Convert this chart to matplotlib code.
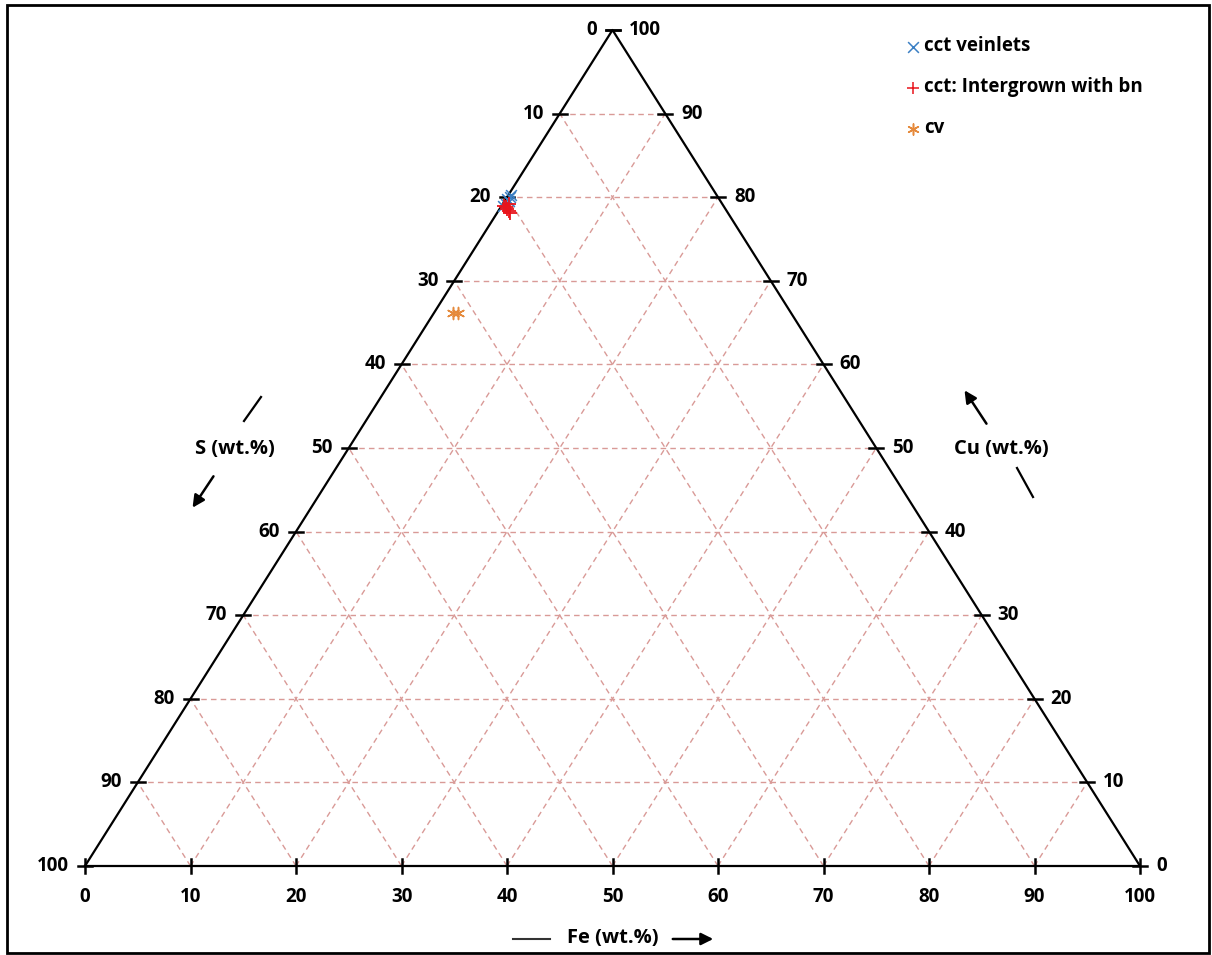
import matplotlib
matplotlib.use("Agg")
import matplotlib.pyplot as plt
from matplotlib.patches import Rectangle
import numpy as np

plt.rcParams['font.family'] = ['Open Sans', 'DejaVu Sans']

# Compositions (wt.%)
cct_veinlets_cu = [79.8, 80.0, 79.5, 79.2, 80.3, 79.0]
cct_veinlets_fe = [0.1, 0.3, 0.4, 0.3, 0.2, 0.1]
cct_veinlets_s = [100 - c - f for c, f in zip(cct_veinlets_cu, cct_veinlets_fe)]

cct_bn_cu = [79.0, 78.8, 78.4, 78.1, 79.2, 78.6]
cct_bn_fe = [0.2, 0.5, 1.0, 1.2, 0.6, 0.7]
cct_bn_s = [100 - c - f for c, f in zip(cct_bn_cu, cct_bn_fe)]

cv_cu = [66.1, 66.2]
cv_fe = [1.8, 2.3]
cv_s = [100 - c - f for c, f in zip(cv_cu, cv_fe)]

tick_values = [0, 10, 20, 30, 40, 50, 60, 70, 80, 90, 100]
legend_labels = ["cct veinlets", "cct: Intergrown with bn", "cv"]

LBL = 13.5
TTL = 14.5


def to_xy(fe, cu):
    fe = np.asarray(fe, dtype=float)
    cu = np.asarray(cu, dtype=float)
    return fe + cu / 2.0, cu


W, H = 1212, 955
fig = plt.figure(figsize=(W / 100, H / 100), dpi=100)
ax = fig.add_axes([0, 0, 1, 1])
# Triangle base spans x 85..1140 px, apex at y 30 px, base at y 866 px
sx = (1140 - 85) / 100.0
sy = (866 - 30) / 100.0
ax.set_xlim(-85 / sx, (W - 85) / sx)
ax.set_ylim((866 - H) / sy, 866 / sy)
ax.axis('off')

grid_color = '#d99a97'
# Grid: constant Cu (horizontal), constant Fe, constant S
for v in tick_values[1:-1]:
    x0, y0 = to_xy(0, v)
    x1, y1 = to_xy(100 - v, v)
    ax.plot([x0, x1], [y0, y1], color=grid_color, ls=(0, (4, 3)), lw=1.0, zorder=1)
    x0, y0 = to_xy(v, 0)
    x1, y1 = to_xy(v, 100 - v)
    ax.plot([x0, x1], [y0, y1], color=grid_color, ls=(0, (4, 3)), lw=1.0, zorder=1)
    x0, y0 = to_xy(100 - v, 0)
    x1, y1 = to_xy(0, 100 - v)
    ax.plot([x0, x1], [y0, y1], color=grid_color, ls=(0, (4, 3)), lw=1.0, zorder=1)

# Triangle outline
tx, ty = to_xy([0, 100, 0, 0], [0, 0, 100, 0])
ax.plot(tx, ty, color='black', lw=1.6, zorder=2)

# Tick marks (in pixel units converted to data units)
hx = 7 / sx
hy = 7 / sy
for v in tick_values:
    # bottom axis (Fe)
    bx, by = to_xy(v, 0)
    ax.plot([bx, bx], [by - hy, by + hy], color='black', lw=1.8, zorder=3)
    ax.text(bx, by - 31 / sy, str(v), ha='center', va='center',
            fontsize=LBL, fontweight='bold')
    # left axis (S): Fe = 0, Cu = 100 - S
    lx, ly = to_xy(0, 100 - v)
    ax.plot([lx - hx, lx + hx], [ly, ly], color='black', lw=1.8, zorder=3)
    ax.text(lx - 16 / sx, ly, str(v), ha='right', va='center',
            fontsize=LBL, fontweight='bold')
    # right axis (Cu): Fe = 100 - Cu
    rx, ry = to_xy(100 - v, v)
    ax.plot([rx - hx, rx + hx], [ry, ry], color='black', lw=1.8, zorder=3)
    ax.text(rx + 16 / sx, ry, str(v), ha='left', va='center',
            fontsize=LBL, fontweight='bold')

# Data
x, y = to_xy(cct_veinlets_fe, cct_veinlets_cu)
ax.scatter(x, y, marker='x', s=60, color='#3a7fc4', linewidths=1.1, zorder=5)
x, y = to_xy(cct_bn_fe, cct_bn_cu)
ax.scatter(x, y, marker='+', s=90, color='#e8141b', linewidths=1.3, zorder=6)
x, y = to_xy(cv_fe, cv_cu)
ax.scatter(x, y, marker=(6, 2, 0), s=75, color='#e58a3c', linewidths=1.1, zorder=5)


def px(xp, yp):
    return (xp - 85) / sx, (866 - yp) / sy


# Legend
leg_markers = ['x', '+', (6, 2, 0)]
leg_colors = ['#3a7fc4', '#e8141b', '#e58a3c']
leg_sizes = [60, 80, 65]
for i, (lab, mk, col, sz) in enumerate(zip(legend_labels, leg_markers, leg_colors, leg_sizes)):
    yp = 47 + i * 41
    mx, my = px(913, yp)
    ax.scatter([mx], [my], marker=mk, s=sz, color=col, linewidths=1.1, zorder=5)
    tx_, ty_ = px(924, yp - 1)
    ax.text(tx_, ty_, lab, ha='left', va='center', fontsize=LBL, fontweight='bold')

# Axis titles with arrows
fx, fy = px(613, 938)
ax.text(fx, fy, 'Fe (wt.%)', ha='center', va='center', fontsize=TTL, fontweight='bold')
ax.plot(*zip(px(513, 939), px(550, 939)), color='#333333', lw=1.5)
ax.annotate('', xy=px(716, 939), xytext=px(670, 939),
            arrowprops=dict(arrowstyle='-|>', color='black', lw=1.8, mutation_scale=18))

sx_, sy_ = px(235, 449)
ax.text(sx_, sy_, 'S (wt.%)', ha='center', va='center', fontsize=TTL, fontweight='bold')
ax.plot(*zip(px(244, 421), px(261, 397)), color='black', lw=1.6)
ax.annotate('', xy=px(191, 510), xytext=px(215, 474),
            arrowprops=dict(arrowstyle='-|>', color='black', lw=1.8, mutation_scale=18))

cx, cy = px(1001, 449)
ax.text(cx, cy, 'Cu (wt.%)', ha='center', va='center', fontsize=TTL, fontweight='bold')
ax.plot(*zip(px(1017, 468), px(1033, 497)), color='black', lw=1.6)
ax.annotate('', xy=px(963, 388), xytext=px(988, 426),
            arrowprops=dict(arrowstyle='-|>', color='black', lw=1.8, mutation_scale=18))

# Figure frame
fig.patches.append(Rectangle((7 / W, 2 / H), (1209 - 7) / W, (950 - 2) / H,
                             transform=fig.transFigure, fill=False,
                             edgecolor='black', lw=2.0))

fig.savefig('out.png', dpi=100)
